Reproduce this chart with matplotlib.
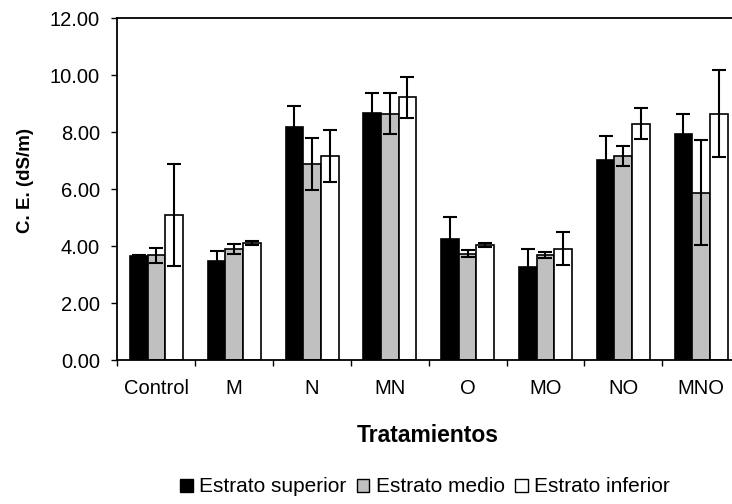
#!/usr/bin/env python3
"""
Conductividad electrica (C. E.) por tratamiento y estrato.
Barras agrupadas con barras de error, estilo Excel.
"""

import numpy as np
import matplotlib
matplotlib.use("Agg")
import matplotlib.pyplot as plt
from matplotlib.patches import Patch
from matplotlib.ticker import FormatStrFormatter, MultipleLocator


# -----------------------------------------------------------------------------
# Data
# -----------------------------------------------------------------------------

tratamientos = ["Control", "M", "N", "MN", "O", "MO", "NO", "MNO"]

superior = [3.65, 3.48, 8.18, 8.67, 4.26, 3.27, 7.04, 7.95]
superior_err = [0.03, 0.36, 0.76, 0.70, 0.77, 0.64, 0.83, 0.70]

medio = [3.68, 3.90, 6.89, 8.66, 3.73, 3.68, 7.17, 5.88]
medio_err = [0.27, 0.18, 0.92, 0.71, 0.12, 0.10, 0.36, 1.85]

inferior = [5.10, 4.10, 7.17, 9.23, 4.04, 3.91, 8.31, 8.66]
inferior_err = [1.78, 0.07, 0.90, 0.71, 0.07, 0.58, 0.53, 1.53]

series = [
    ("Estrato superior", superior, superior_err, "black"),
    ("Estrato medio", medio, medio_err, "#C0C0C0"),
    ("Estrato inferior", inferior, inferior_err, "white"),
]


# -----------------------------------------------------------------------------

def main():
    plt.rcParams["font.family"] = ["Liberation Sans", "DejaVu Sans"]

    fig = plt.figure(figsize=(7.32, 5.04), dpi=100)
    ax = fig.add_axes([0.1605, 0.2857, 0.8504, 0.6776])

    x = np.arange(len(tratamientos))
    w = 0.227

    for i, (name, vals, errs, color) in enumerate(series):
        ax.bar(x + (i - 1) * w, vals, w, color=color, edgecolor="black",
               linewidth=1.2, zorder=2)
        ax.errorbar(x + (i - 1) * w, vals, yerr=errs, fmt="none",
                    ecolor="black", elinewidth=1.5, capsize=5, capthick=1.5,
                    zorder=3)

    # axes ---------------------------------------------------------------------
    ax.set_xlim(-0.5, len(tratamientos) - 0.5)
    ax.set_ylim(0, 12)
    ax.yaxis.set_major_locator(MultipleLocator(2))
    ax.yaxis.set_major_formatter(FormatStrFormatter("%.2f"))

    ax.set_xticks(x)
    ax.set_xticklabels(tratamientos)
    ax.set_xticks(np.arange(len(tratamientos) + 1) - 0.5, minor=True)
    ax.tick_params(axis="x", which="major", length=0, pad=14, labelsize=14.5)
    ax.tick_params(axis="x", which="minor", length=4, width=1.0,
                   direction="out")
    ax.tick_params(axis="y", length=4, width=1.0, direction="out", pad=8.5,
                   labelsize=14.5)

    for side in ["left", "bottom", "top", "right"]:
        ax.spines[side].set_linewidth(1.3)

    fig.text(25 / 732, 1 - 180 / 504, "C. E. (dS/m)", rotation=90,
             ha="center", va="center", fontsize=13.5, fontweight="bold")
    fig.text(428 / 732, 1 - 435 / 504, "Tratamientos", ha="center",
             va="center", fontsize=16.5, fontweight="bold")

    # legend -------------------------------------------------------------------
    handles = [Patch(facecolor=c, edgecolor="black", linewidth=1.0, label=n)
               for n, _, _, c in series]
    fig.legend(handles=handles, loc="center", ncol=3, frameon=False,
               bbox_to_anchor=(425 / 732, 1 - 487 / 504), fontsize=15,
               handlelength=0.6, handleheight=0.6, handletextpad=0.3,
               columnspacing=0.5)

    fig.savefig("out.png", dpi=100)
    plt.close(fig)


if __name__ == "__main__":
    main()
